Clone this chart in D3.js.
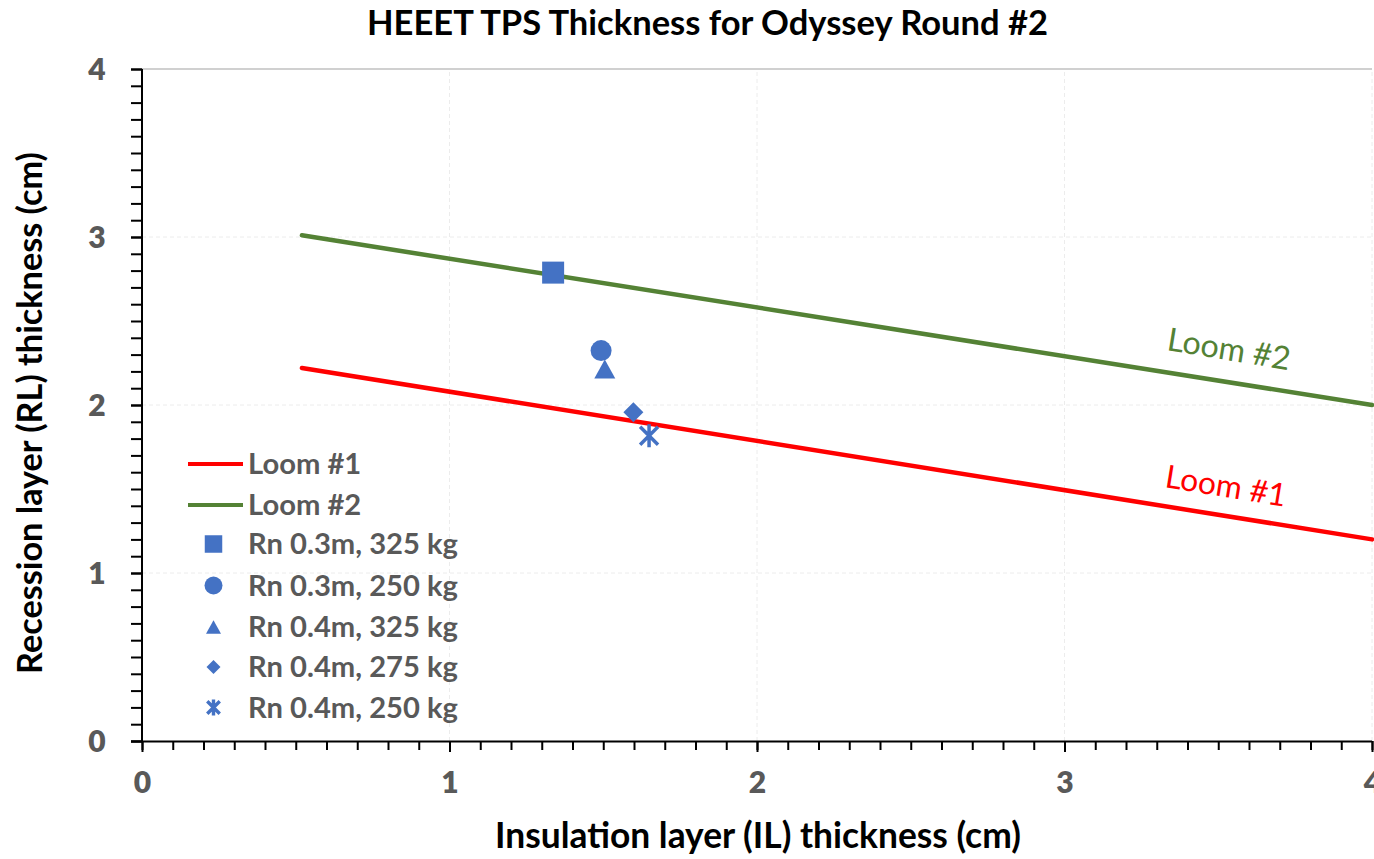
<!DOCTYPE html>
<html>
<head>
<meta charset="utf-8">
<script src="https://cdn.jsdelivr.net/npm/d3@7"></script>
<style>
  html, body { margin: 0; padding: 0; background: #fff; }
  svg { display: block; }
  text { font-family: Lato, "Open Sans", "Liberation Sans", sans-serif; }
</style>
</head>
<body>
<svg id="chart" width="1374" height="859"></svg>
<script>
// ---------------- data ----------------
const title = "HEEET TPS Thickness for Odyssey Round #2";
const xAxisTitle = "Insulation layer (IL) thickness (cm)";
const yAxisTitle = "Recession layer (RL) thickness (cm)";
const xTicks = [0, 1, 2, 3, 4];
const yTicks = [0, 1, 2, 3, 4];
const lineNames = ["Loom #1", "Loom #2"];
const lineX = [0.52, 4.0];
const loom1Y = [2.22, 1.20];
const loom2Y = [3.01, 2.00];
const pointNames = ["Rn 0.3m, 325 kg", "Rn 0.3m, 250 kg", "Rn 0.4m, 325 kg", "Rn 0.4m, 275 kg", "Rn 0.4m, 250 kg"];
const pointX = [1.337, 1.493, 1.505, 1.598, 1.649];
const pointY = [2.788, 2.324, 2.214, 1.957, 1.817];
const pointShapes = ["square", "circle", "triangle", "diamond", "star"];

// ---------------- styles ----------------
const lineColors = ["#FF0000", "#548235"];
const markerColor = "#4472C4";
const labelGray = "#595959";

const svg = d3.select("#chart");
const margin = { left: 142, right: 1372, top: 69, bottom: 741 };
const x = d3.scaleLinear().domain([0, 4]).range([margin.left, margin.right]);
const y = d3.scaleLinear().domain([0, 4]).range([margin.bottom, margin.top]);

function fit(sel, target) {
  const n = sel.node();
  const fs = parseFloat(sel.attr("font-size"));
  const w = n.getComputedTextLength();
  sel.attr("font-size", (fs * target / w).toFixed(2));
}

// gridlines
const grid = svg.append("g");
grid.selectAll(".gx").data(xTicks.filter(d => d > 0)).enter().append("line")
  .attr("x1", d => x(d)).attr("x2", d => x(d))
  .attr("y1", y(0)).attr("y2", y(4))
  .attr("stroke", "#ececec").attr("stroke-width", 1).attr("stroke-dasharray", "4,3");
grid.selectAll(".gy").data(yTicks.filter(d => d > 0 && d < 4)).enter().append("line")
  .attr("x1", x(0)).attr("x2", x(4))
  .attr("y1", d => y(d)).attr("y2", d => y(d))
  .attr("stroke", "#ececec").attr("stroke-width", 1).attr("stroke-dasharray", "4,3");
// top border
svg.append("line").attr("x1", x(0)).attr("x2", x(4)).attr("y1", y(4)).attr("y2", y(4))
  .attr("stroke", "#d0d0d0").attr("stroke-width", 2);

// axes
const minorX = d3.range(0, 41).map(i => i / 10);
const minorY = d3.range(0, 41).map(i => i / 10);

const xMinor = svg.append("g").attr("transform", `translate(0,${y(0)})`)
  .call(d3.axisBottom(x).tickValues(minorX).tickSize(9).tickFormat(""));
const xMajor = svg.append("g").attr("transform", `translate(0,${y(0)})`)
  .call(d3.axisBottom(x).tickValues(xTicks).tickSize(11).tickPadding(24).tickFormat(d3.format("d")));
const yMinor = svg.append("g").attr("transform", `translate(${x(0)},0)`)
  .call(d3.axisLeft(y).tickValues(minorY).tickSize(11).tickFormat(""));
const yMajor = svg.append("g").attr("transform", `translate(${x(0)},0)`)
  .call(d3.axisLeft(y).tickValues(yTicks).tickSize(11).tickPadding(0).tickFormat(d3.format("d")));

[xMinor, xMajor, yMinor, yMajor].forEach(g => {
  g.selectAll("line").attr("stroke", "#000").attr("stroke-width", 2);
  g.select(".domain").attr("stroke", "#000").attr("stroke-width", 2);
});
xMinor.select(".domain").attr("d", `M${x(0) - 11},0.5H${x(4)}`);
yMinor.select(".domain").attr("d", `M0,${y(0)}V${y(4)}`);
xMajor.select(".domain").remove();
yMajor.select(".domain").remove();

xMajor.selectAll("text")
  .attr("font-size", 30).attr("font-weight", 800).attr("fill", labelGray)
  .attr("dy", null).attr("y", 52).attr("font-family", "Lato, sans-serif");
yMajor.selectAll("text")
  .attr("font-size", 30).attr("font-weight", 800).attr("fill", labelGray)
  .attr("text-anchor", "middle").attr("x", -45).attr("dy", "0.35em")
  .attr("font-family", "Lato, sans-serif");

// lines
const lineGen = d3.line().x(d => x(d[0])).y(d => y(d[1]));
const lineData = [loom1Y, loom2Y].map(ys => lineX.map((xv, i) => [xv, ys[i]]));
svg.append("g").selectAll("path").data(lineData).enter().append("path")
  .attr("d", lineGen).attr("fill", "none")
  .attr("stroke", (d, i) => lineColors[i]).attr("stroke-width", 4.5).attr("stroke-linecap", "round");

// markers
function markerPath(shape, s) {
  const h = s / 2;
  switch (shape) {
    case "square": return `M${-h},${-h}H${h}V${h}H${-h}Z`;
    case "circle": return d3.symbol(d3.symbolCircle, Math.PI * h * h)();
    case "triangle": { const th = s * 0.9 / 2; return `M0,${-th}L${h},${th}L${-h},${th}Z`; }
    case "diamond": return `M0,${-h}L${h},0L0,${h}L${-h},0Z`;
    case "star": { const k = h * 0.78; return `M${-k},${-k}L${k},${k}M${-k},${k}L${k},${-k}M0,${-h}V${h}`; }
  }
}
const plotSizes = { square: 22, circle: 21, triangle: 21, diamond: 20, star: 23 };
const legendSizes = { square: 17.5, circle: 18, triangle: 15, diamond: 14, star: 16 };

function drawMarker(g, shape, s) {
  const p = g.append("path").attr("d", markerPath(shape, s));
  if (shape === "star") p.attr("fill", "none").attr("stroke", markerColor).attr("stroke-width", s > 18 ? 3.5 : 3.4);
  else p.attr("fill", markerColor);
}
pointShapes.forEach((shape, i) => {
  const g = svg.append("g").attr("transform", `translate(${x(pointX[i])},${y(pointY[i])})`);
  drawMarker(g, shape, plotSizes[shape]);
});

// legend
const legendRows = [464, 505, 544, 585.5, 627, 667, 707.5];
const legendNames = lineNames.concat(pointNames);
const lg = svg.append("g");
legendNames.forEach((name, i) => {
  const ry = legendRows[i];
  if (i < 2) {
    lg.append("line").attr("x1", 188).attr("x2", 243).attr("y1", ry).attr("y2", ry)
      .attr("stroke", lineColors[i]).attr("stroke-width", 4);
  } else {
    const g = lg.append("g").attr("transform", `translate(213.5,${ry})`);
    drawMarker(g, pointShapes[i - 2], legendSizes[pointShapes[i - 2]]);
  }
  lg.append("text").attr("class", "leg").attr("x", 248).attr("y", ry).attr("dy", "0.36em")
    .attr("font-size", 22).attr("font-weight", 700).attr("fill", labelGray).text(name);
});
// fit legend text size using longest label
const legTexts = lg.selectAll("text.leg");
const longest = legTexts.filter((d, i) => i === 2);
fit(longest, 210);
legTexts.attr("font-size", longest.attr("font-size"));

// annotations
const angle = 9.3;
svg.append("text").attr("id", "a2").attr("transform", `translate(1229,349) rotate(${angle})`)
  .attr("text-anchor", "middle").attr("dy", "0.35em").attr("font-size", 26).attr("font-weight", 400)
  .attr("fill", lineColors[1]).text(lineNames[1]);
svg.append("text").attr("id", "a1").attr("transform", `translate(1226,486) rotate(${angle})`)
  .attr("text-anchor", "middle").attr("dy", "0.35em").attr("font-size", 26).attr("font-weight", 400)
  .attr("fill", lineColors[0]).text(lineNames[0]);
fit(svg.select("#a2"), 124);
fit(svg.select("#a1"), 122);

// titles
const t = svg.append("text").attr("x", 707.5).attr("y", 35).attr("text-anchor", "middle")
  .attr("font-size", 28).attr("font-weight", 700).attr("fill", "#000").text(title);
fit(t, 681);
const xt = svg.append("text").attr("x", 758).attr("y", 848).attr("text-anchor", "middle")
  .attr("font-size", 28).attr("font-weight", 700).attr("fill", "#000").text(xAxisTitle);
fit(xt, 526);
const yt = svg.append("text").attr("transform", "translate(42,413) rotate(-90)").attr("text-anchor", "middle")
  .attr("font-size", 28).attr("font-weight", 700).attr("fill", "#000").text(yAxisTitle);
fit(yt, 522);
</script>
</body>
</html>
